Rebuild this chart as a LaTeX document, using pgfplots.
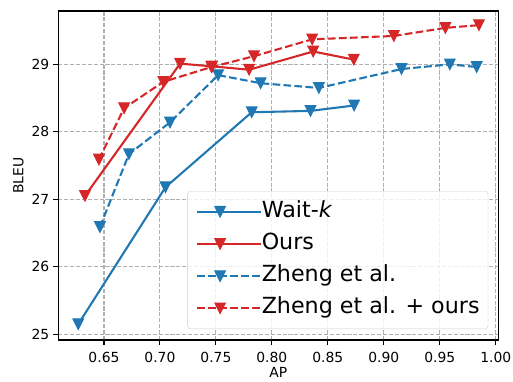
\documentclass[border=0pt]{standalone}
\usepackage{pgfplots}
\pgfplotsset{compat=1.18}
\usepackage{fontspec}
\setmainfont{DejaVu Sans}
\definecolor{tabblue}{HTML}{1F77B4}
\definecolor{tabred}{HTML}{D62728}
\pgfdeclareplotmark{vtri}{%
  \pgfpathmoveto{\pgfqpoint{0pt}{-\pgfplotmarksize}}%
  \pgfpathlineto{\pgfqpoint{-\pgfplotmarksize}{\pgfplotmarksize}}%
  \pgfpathlineto{\pgfqpoint{\pgfplotmarksize}{\pgfplotmarksize}}%
  \pgfpathclose
  \pgfusepathqfillstroke}
\pgfplotsset{
  mplleg/.style={legend image code/.code={%
    \path (0bp,0bp) -- (63.6bp,0bp);
    \draw[mark repeat=2,mark phase=2,fill opacity=1,draw opacity=1,##1] plot coordinates {(0bp,0bp)(23bp,0bp)(46bp,0bp)};}},
}
\begin{document}
\begin{tikzpicture}
\begin{axis}[
  scale only axis, width=440bp, height=329bp,
  xmin=0.6092, xmax=1.0023, ymin=24.9156, ymax=29.79,
  xtick={0.65,0.70,0.75,0.80,0.85,0.90,0.95,1.00},
  ytick={25,26,27,28,29},
  xticklabel style={/pgf/number format/.cd, fixed, fixed zerofill, precision=2},
  /pgf/number format/assume math mode=true,
  tick label style={font=\fontsize{13.9bp}{16bp}\selectfont, inner sep=0pt},
  xticklabel shift=6.8bp, yticklabel shift=4bp,
  tick pos=left, tick align=outside, major tick length=4.9bp,
  tick style={black, line width=1.1bp},
  axis line style={line width=1.1bp},
  xmajorgrids, ymajorgrids,
  major grid style={color=black!31, dash pattern=on 4.1bp off 1.8bp, line width=1.1bp},
  xlabel={AP}, ylabel={BLEU},
  every axis x label/.style={at={(axis description cs:0.5,0)}, anchor=center, yshift=-32.7bp, font=\fontsize{13.9bp}{16bp}\selectfont},
  every axis y label/.style={at={(axis description cs:0,0.5)}, anchor=center, xshift=-40bp, rotate=90, font=\fontsize{13.9bp}{16bp}\selectfont},
  legend cell align=left,
  legend style={at={(0.977,0.0334)}, anchor=south east,
    font=\fontsize{22.2bp}{26bp}\selectfont,
    draw=black!20, rounded corners=3bp, fill=white, fill opacity=0.8, text opacity=1,
    inner xsep=8.4bp, inner ysep=10bp, row sep=11.2bp,
    nodes={inner sep=0pt, text height=16bp, text depth=5bp}},
  mplleg,
  every axis plot/.append style={line width=2.08bp, mark=vtri, mark size=5.3bp},
]
\addplot[color=tabblue, mark options={solid, fill=tabblue, line width=1bp}] coordinates {
(0.627,25.15) (0.705,27.18) (0.782,28.29) (0.8345,28.31) (0.8735,28.39)};
\addlegendentry{Wait-\textit{k}}
\addplot[color=tabred, mark options={solid, fill=tabred, line width=1bp}] coordinates {
(0.633,27.05) (0.718,29.01) (0.7467,28.97) (0.7797,28.92) (0.8369,29.19) (0.8732,29.07)};
\addlegendentry{Ours}
\addplot[color=tabblue, dash pattern=on 7.7bp off 3.3bp, mark options={solid, fill=tabblue, line width=1bp}] coordinates {
(0.6464,26.59) (0.6723,27.67) (0.709,28.14) (0.752,28.84) (0.790,28.72) (0.842,28.65) (0.9158,28.93) (0.959,29.00) (0.983,28.96)};
\addlegendentry{Zheng et al.}
\addplot[color=tabred, dash pattern=on 7.7bp off 3.3bp, mark options={solid, fill=tabred, line width=1bp}] coordinates {
(0.6455,27.59) (0.668,28.35) (0.703,28.74) (0.746,28.96) (0.784,29.12) (0.836,29.37) (0.909,29.42) (0.955,29.54) (0.985,29.58)};
\addlegendentry{Zheng et al. + ours}
\end{axis}
\path (-58.3bp,-39bp) rectangle (454.7bp,340bp);
\end{tikzpicture}
\end{document}
